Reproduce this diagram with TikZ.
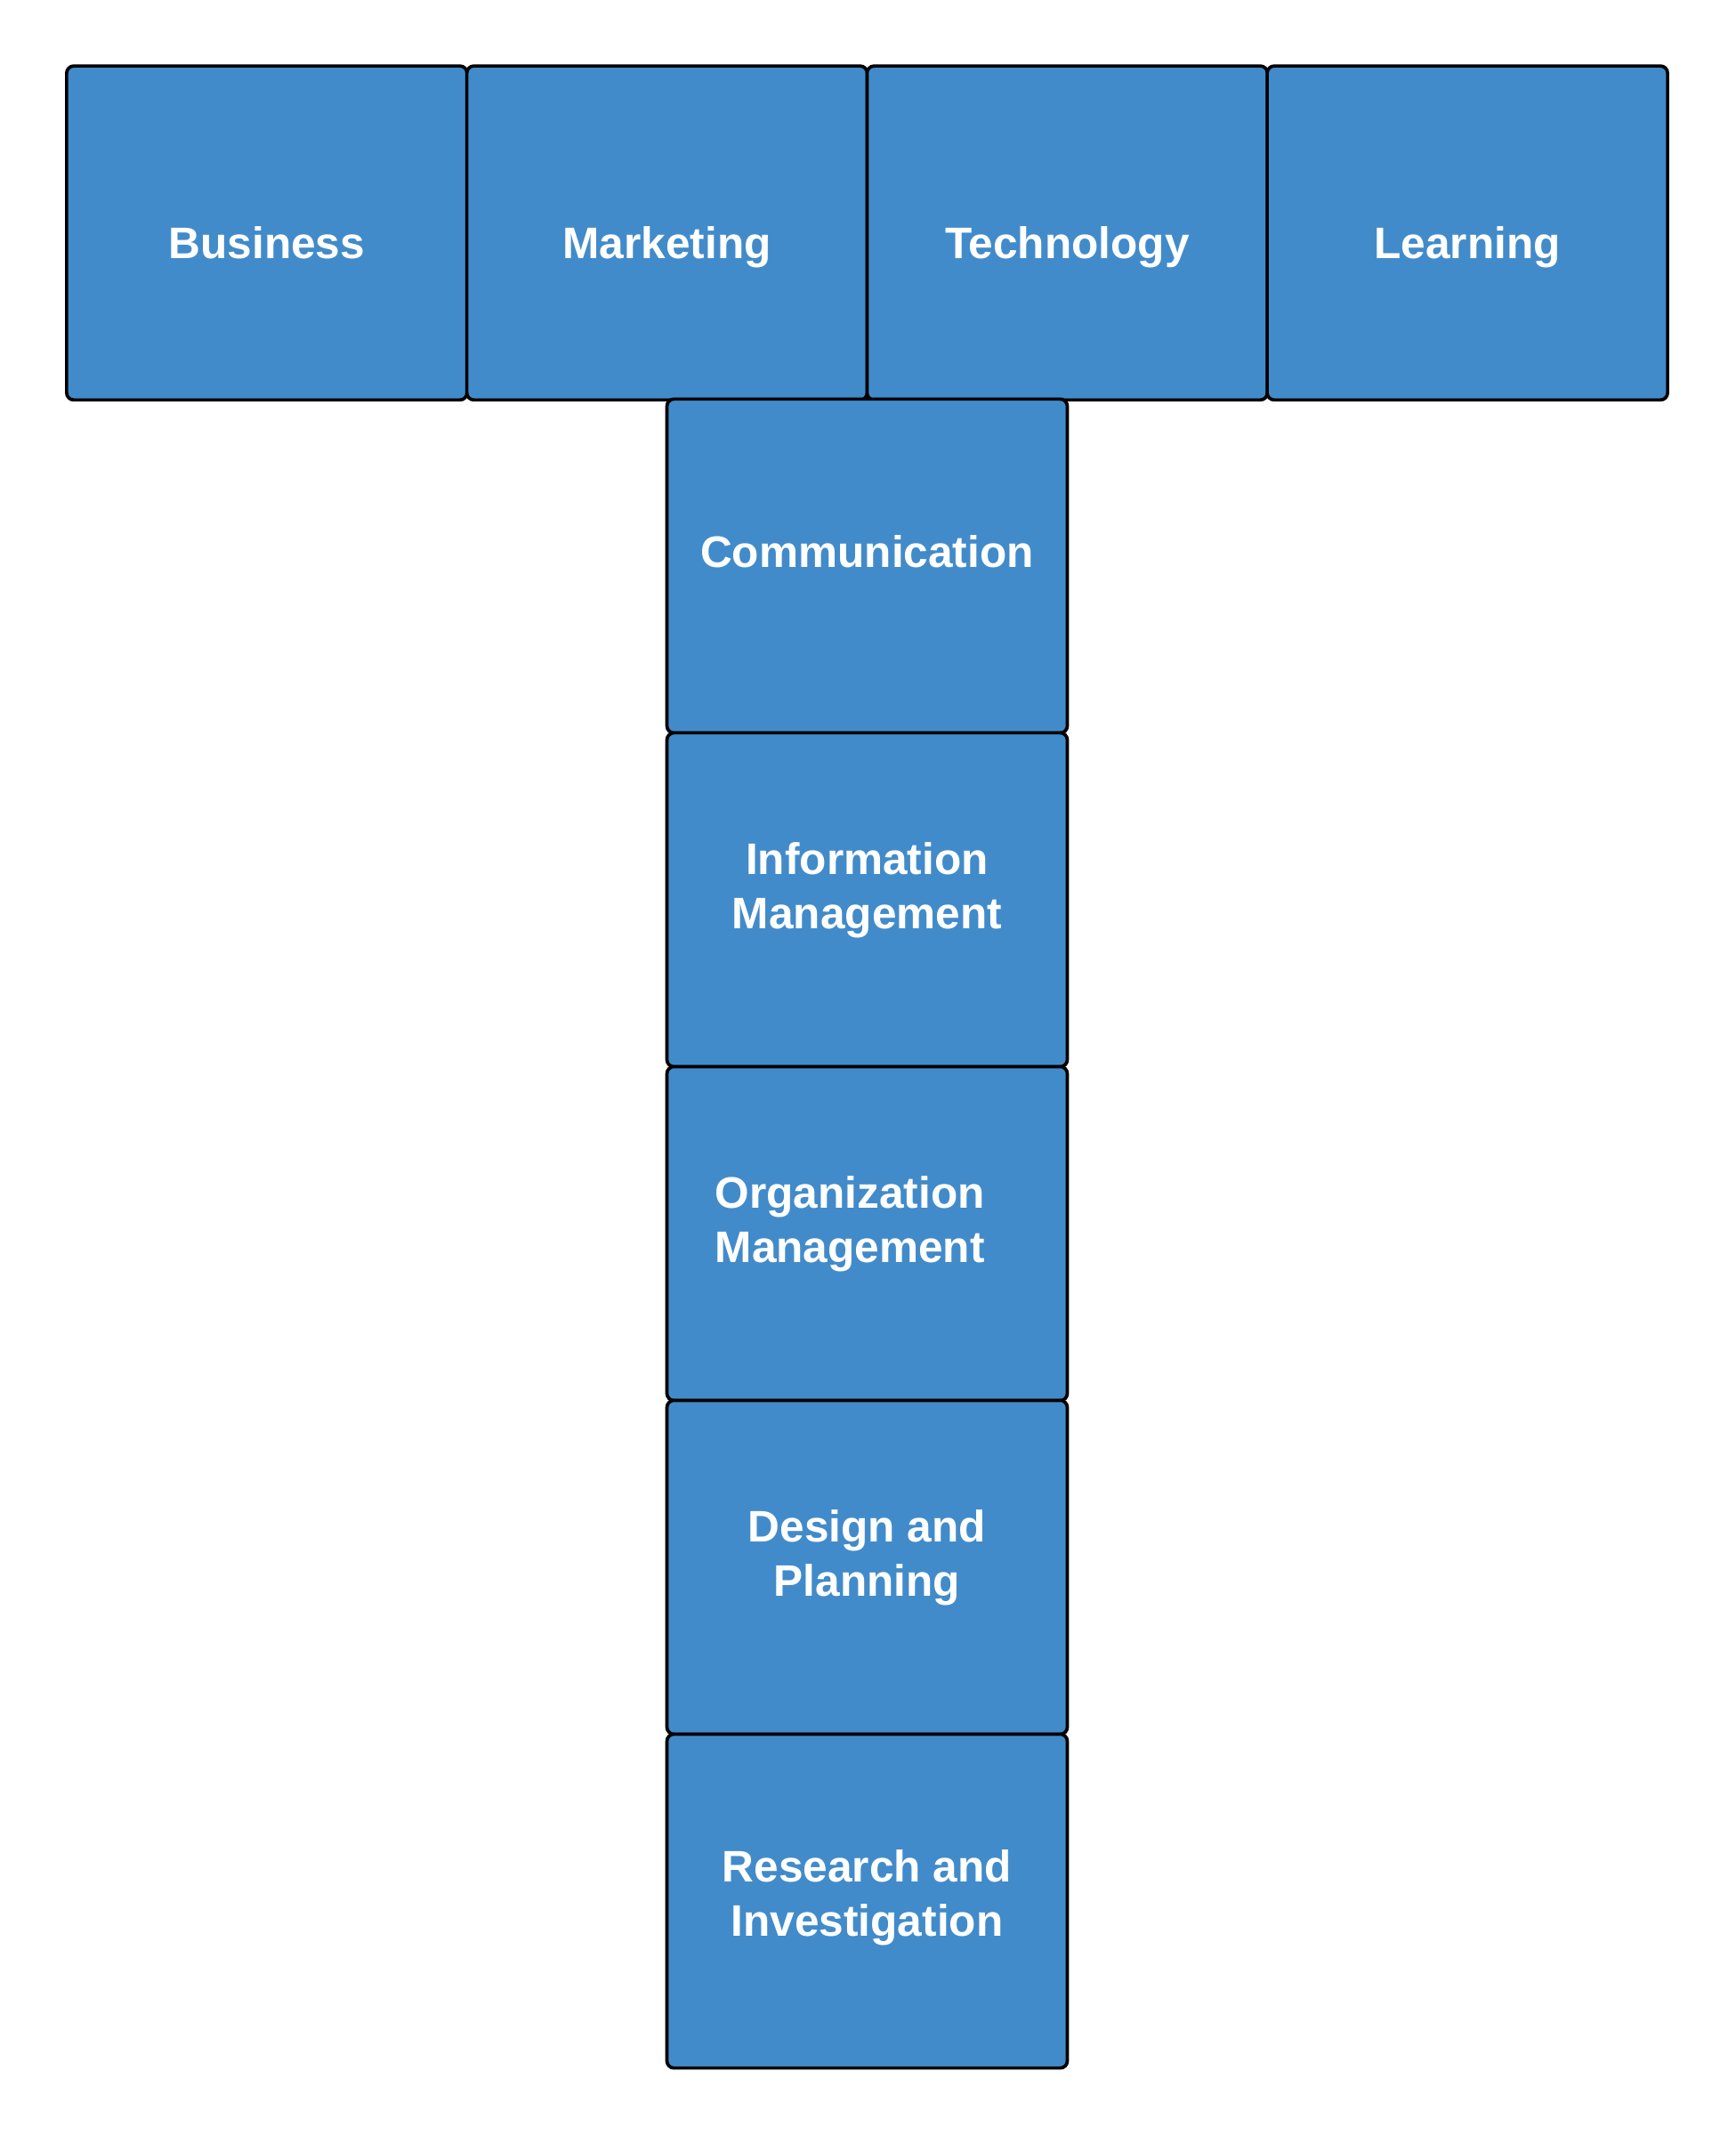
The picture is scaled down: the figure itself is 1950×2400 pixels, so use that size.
\documentclass[tikz,border=0pt]{standalone}
\usepackage{fontspec}
\setmainfont{Liberation Sans}
\definecolor{tileblue}{RGB}{66,139,202}
\newcommand{\tilefont}{\fontsize{14.1}{17.07}\selectfont\bfseries}
\begin{document}
\begin{tikzpicture}[x=0.01cm,y=-0.01cm,
  tile/.style={draw=black, fill=tileblue, line width=1.05pt, rounded corners=0.08cm,
    minimum width=4.4975cm, minimum height=3.75cm, inner sep=0pt, outer sep=0pt},
  tiletext/.style={text=white, font=\tilefont, inner sep=0pt, anchor=base}]
\useasboundingbox (0,0) rectangle (1950,2400);

% top bar of the T
\node[tile] (business)   at (299.9,261.75) {};
\node[tile] (marketing)  at (749.6,261.75) {};
\node[tile] (technology) at (1199.4,261.75) {};
\node[tile] (learning)   at (1649.1,261.75) {};

% stem of the T
\node[tile] (communication) at (974.5,636) {};
\node[tile] (infomgmt)      at (974.5,1011) {};
\node[tile] (orgmgmt)       at (974.5,1386) {};
\node[tile] (design)        at (974.5,1761) {};
\node[tile] (research)      at (974.5,2136) {};

% labels
\node[tiletext] (tbusiness)   at (299.9,290) {Business};
\node[tiletext] (tmarketing)  at (749.6,290) {Marketing};
\node[tiletext] (ttechnology) at (1199.4,290) {Technology};
\node[tiletext] (tlearning)   at (1649.1,290) {Learning};

\node[tiletext] (tcommunication) at (974.5,637) {Communication};
\node[tiletext] (tinfomgmt) at (974.5,1043)
  {\begin{tabular}[b]{@{}c@{}}Information\\Management\end{tabular}};
\node[tiletext, anchor=base west] (torgmgmt) at (803,1418)
  {\begin{tabular}[b]{@{}l@{}}Organization\\Management\end{tabular}};
\node[tiletext] (tdesign) at (974.5,1793)
  {\begin{tabular}[b]{@{}c@{}}Design and\\Planning\end{tabular}};
\node[tiletext] (tresearch) at (974.5,2175)
  {\begin{tabular}[b]{@{}c@{}}Research and\\Investigation\end{tabular}};
\end{tikzpicture}
\end{document}
